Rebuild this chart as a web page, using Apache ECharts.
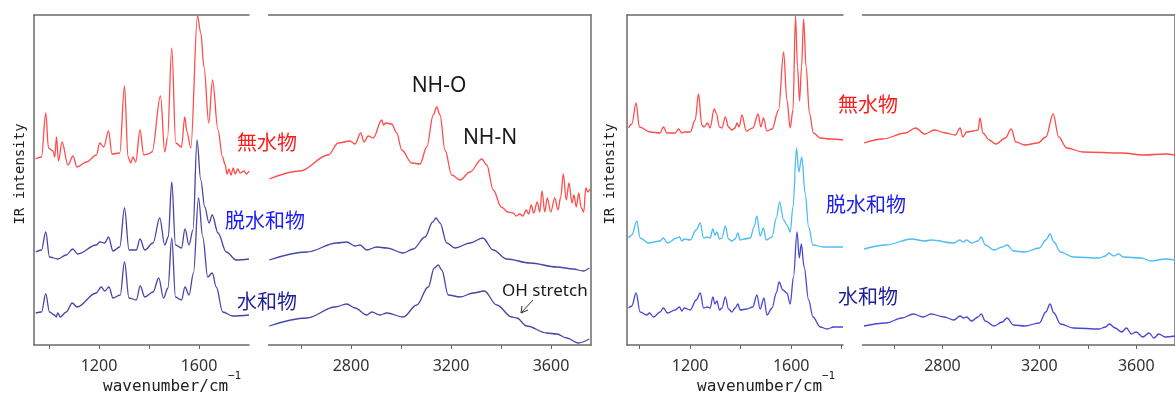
<!DOCTYPE html>
<html>
<head>
<meta charset="utf-8">
<script src="https://cdn.jsdelivr.net/npm/echarts@6/dist/echarts.min.js"></script>
<style>
  html, body { margin: 0; padding: 0; background: #fff; }
  #chart { width: 1175px; height: 394px; }
</style>
</head>
<body>
<div id="chart"></div>
<script>
// [wavenumber cm-1, offset intensity]
const leftLowAnhyd = [[946,186],[970,188],[987,232],[998,197],[1016,194],[1023,188],[1030,208],[1038,184],[1052,203],[1076,180],[1096,189],[1112,178],[1150,183],[1190,190],[1203,202],[1219,198],[1238,214],[1252,191],[1283,192],[1302,259],[1316,188],[1327,182],[1336,188],[1347,183],[1364,215],[1379,190],[1396,191],[1412,193],[1446,249],[1463,193],[1474,207],[1491,297],[1507,202],[1530,198],[1543,228],[1552,213],[1567,197],[1594,329],[1607,312],[1620,278],[1639,222],[1654,265],[1676,215],[1694,188],[1705,180],[1712,171],[1720,176],[1728,170],[1737,177],[1745,171],[1755,176],[1765,172],[1780,174],[1790,171],[1800,174]];
const leftHighAnhyd = [[2473,166],[2596,174],[2709,190],[2749,202],[2796,204],[2816,201],[2839,212],[2852,203],[2869,209],[2889,207],[2923,225],[2930,220],[2939,222],[2963,221],[2983,212],[3003,195],[3043,182],[3076,181],[3103,198],[3129,230],[3143,238],[3156,230],[3176,195],[3203,170],[3236,165],[3276,173],[3323,186],[3343,180],[3369,155],[3401,138],[3428,133],[3448,132],[3461,129],[3475,131],[3488,129],[3501,135],[3511,131],[3521,140],[3531,132],[3545,143],[3555,133],[3564,154],[3575,133],[3585,147],[3599,133],[3615,147],[3628,135],[3639,148],[3649,171],[3661,145],[3672,162],[3684,142],[3692,150],[3701,138],[3711,152],[3721,137],[3731,133],[3739,157],[3748,153],[3755,156]];
const leftLowDehyd = [[947,93],[970,95],[987,113],[1002,88],[1035,86],[1069,90],[1095,96],[1115,91],[1189,100],[1203,103],[1223,102],[1238,108],[1256,94],[1283,98],[1302,137],[1320,95],[1349,95],[1364,106],[1383,95],[1416,102],[1443,127],[1463,100],[1477,108],[1491,163],[1506,100],[1530,97],[1544,116],[1560,100],[1576,115],[1592,205],[1607,165],[1623,138],[1640,122],[1653,130],[1676,112],[1709,93],[1749,85],[1800,86]];
const leftHighDehyd = [[2473,85],[2623,93],[2743,102],[2783,103],[2816,99],[2836,100],[2863,95],[2903,98],[2943,97],[3009,92],[3049,96],[3096,108],[3127,123],[3140,127],[3156,122],[3183,102],[3216,97],[3276,102],[3327,107],[3369,95],[3423,86],[3516,82],[3623,78],[3689,76],[3729,74],[3753,77]];
const leftLowHyd = [[947,32],[970,33],[987,51],[1002,33],[1022,30],[1029,28],[1035,32],[1045,28],[1069,33],[1093,42],[1112,38],[1189,52],[1209,58],[1223,54],[1240,58],[1256,47],[1285,50],[1302,83],[1320,47],[1349,45],[1365,59],[1383,48],[1416,53],[1439,67],[1458,47],[1476,57],[1491,107],[1506,48],[1530,45],[1544,58],[1560,50],[1578,72],[1598,147],[1615,108],[1635,68],[1653,72],[1669,58],[1695,33],[1735,29],[1800,30]];
const leftHighHyd = [[2473,19],[2623,27],[2736,38],[2783,41],[2816,37],[2863,30],[2883,33],[2916,30],[2943,32],[3009,28],[3063,40],[3109,58],[3133,77],[3149,80],[3163,75],[3189,50],[3236,48],[3289,52],[3333,54],[3383,40],[3443,28],[3463,27],[3503,19],[3583,12],[3623,11],[3663,7],[3709,2],[3753,6]];

const rightLowAnhyd = [[956,217],[969,221],[986,242],[999,218],[1042,213],[1081,212],[1094,218],[1108,212],[1141,212],[1154,216],[1167,212],[1177,213],[1200,213],[1220,225],[1233,251],[1246,220],[1255,218],[1269,222],[1279,217],[1295,236],[1303,232],[1316,218],[1326,217],[1339,228],[1352,218],[1365,215],[1378,217],[1385,222],[1394,218],[1405,230],[1422,214],[1448,217],[1469,231],[1480,218],[1490,227],[1504,214],[1524,216],[1550,235],[1570,293],[1583,245],[1596,217],[1607,235],[1617,329],[1625,278],[1633,244],[1641,278],[1649,326],[1659,278],[1672,232],[1688,212],[1715,207],[1754,206],[1805,205]];
const rightHighAnhyd = [[2476,202],[2553,206],[2647,212],[2689,217],[2727,211],[2767,215],[2813,212],[2853,210],[2873,217],[2884,208],[2900,213],[2927,214],[2947,215],[2955,227],[2967,212],[2993,205],[3020,201],[3060,207],[3084,216],[3103,203],[3140,200],[3193,202],[3227,208],[3257,231],[3280,208],[3313,197],[3380,193],[3540,192],[3633,190],[3720,191],[3760,190]];
const rightLowDehyd = [[956,107],[969,110],[989,124],[1002,107],[1035,102],[1081,104],[1094,107],[1110,102],[1147,107],[1158,108],[1167,104],[1177,106],[1200,105],[1224,115],[1240,122],[1253,107],[1269,108],[1279,107],[1290,116],[1298,110],[1306,113],[1316,106],[1326,107],[1339,119],[1352,106],[1365,104],[1378,106],[1389,112],[1398,105],[1414,106],[1438,107],[1453,118],[1464,129],[1477,109],[1490,117],[1501,105],[1524,108],[1541,127],[1554,143],[1570,125],[1583,120],[1596,113],[1607,138],[1621,197],[1630,173],[1642,188],[1655,152],[1669,118],[1686,100],[1728,98],[1805,98]];
const rightHighDehyd = [[2476,96],[2567,100],[2673,106],[2727,104],[2753,105],[2847,102],[2871,105],[2887,103],[2900,105],[2920,102],[2947,104],[2960,108],[2977,100],[3013,95],[3047,98],[3067,100],[3093,94],[3140,93],[3200,97],[3227,105],[3244,111],[3260,103],[3287,93],[3340,88],[3447,87],[3473,89],[3487,92],[3507,89],[3527,91],[3547,88],[3620,87],[3660,84],[3720,86],[3760,85]];
const rightLowHyd = [[956,37],[969,39],[986,52],[1002,33],[1028,30],[1039,32],[1055,28],[1081,33],[1094,37],[1110,32],[1141,35],[1158,38],[1167,34],[1177,37],[1200,35],[1224,45],[1240,52],[1253,37],[1269,38],[1279,37],[1290,48],[1298,41],[1306,44],[1316,35],[1326,37],[1339,48],[1352,36],[1365,33],[1378,37],[1389,41],[1398,35],[1424,36],[1448,38],[1464,50],[1477,36],[1492,47],[1504,30],[1524,37],[1541,52],[1552,63],[1567,55],[1583,52],[1596,41],[1609,68],[1623,113],[1632,87],[1640,101],[1651,78],[1669,45],[1686,28],[1715,18],[1742,16],[1768,18],[1805,18]];
const rightHighHyd = [[2476,19],[2567,22],[2633,27],[2680,31],[2720,28],[2753,31],[2807,28],[2847,25],[2873,29],[2887,27],[2900,28],[2920,24],[2947,28],[2960,31],[2977,24],[3013,19],[3047,23],[3067,27],[3093,20],[3140,19],[3200,22],[3227,33],[3244,41],[3260,32],[3287,21],[3340,17],[3447,16],[3473,18],[3489,21],[3513,17],[3540,13],[3560,17],[3580,11],[3600,13],[3627,8],[3653,12],[3673,7],[3693,11],[3720,8],[3760,9]];

const lowTickLabels = [1200, 1600];
const highTickLabels = [2800, 3200, 3600];
const sampleNames = ['無水物', '脱水和物', '水和物'];

const chart = echarts.init(document.getElementById('chart'));

const frame = { color: '#6a6a6a', width: 1.5 };
// one grid per axis segment: left panel low/high, right panel low/high
const segments = [
    { grid: { left: 34, top: 15, width: 215, height: 330 }, min: 940, max: 1800, split: 4, labels: lowTickLabels, side: 'left' },
    { grid: { left: 268.5, top: 15, width: 322.5, height: 330 }, min: 2470, max: 3760, split: 6, labels: highTickLabels, side: 'right' },
    { grid: { left: 627, top: 15, width: 216, height: 330 }, min: 950, max: 1805, split: 4, labels: lowTickLabels, side: 'left' },
    { grid: { left: 862.5, top: 15, width: 322.5, height: 330 }, min: 2470, max: 3760, split: 6, labels: highTickLabels, side: 'right' },
];

const xAxis = [];
const yAxis = [];
segments.forEach((s, i) => {
    xAxis.push({
        gridIndex: i, type: 'value', min: s.min, max: s.max, splitNumber: s.split, position: 'bottom',
        axisLine: { show: true, onZero: false, lineStyle: frame },
        axisTick: { show: true, length: 4, lineStyle: { color: '#6a6a6a', width: 1 } },
        axisLabel: {
            showMinLabel: false, showMaxLabel: false, margin: 13,
            fontSize: 16, fontFamily: 'Noto Sans', color: '#333',
            formatter: v => (s.labels.includes(v) ? String(v) : ''),
        },
        splitLine: { show: false },
    });
    xAxis.push({
        gridIndex: i, type: 'value', min: s.min, max: s.max, position: 'top',
        axisLine: { show: true, onZero: false, lineStyle: frame },
        axisTick: { show: false }, axisLabel: { show: false }, splitLine: { show: false },
    });
    yAxis.push({
        gridIndex: i, type: 'value', min: 0, max: 330, position: s.side,
        axisLine: { show: true, onZero: false, lineStyle: frame },
        axisTick: { show: false }, axisLabel: { show: false }, splitLine: { show: false },
    });
});

const leftColors = ['#ff4c4c', '#4646a8', '#4646a8'];
const rightColors = ['#ff4c4c', '#4cbcf2', '#4848d4'];
const seriesData = [
    [leftLowAnhyd, leftLowDehyd, leftLowHyd],
    [leftHighAnhyd, leftHighDehyd, leftHighHyd],
    [rightLowAnhyd, rightLowDehyd, rightLowHyd],
    [rightHighAnhyd, rightHighDehyd, rightHighHyd],
];
const series = [];
seriesData.forEach((group, i) => {
    const colors = i < 2 ? leftColors : rightColors;
    group.forEach((data, k) => {
        series.push({
            name: sampleNames[k], type: 'line', data,
            xAxisIndex: i * 2, yAxisIndex: i,
            showSymbol: false, symbol: 'none', smooth: 0.35, smoothMonotone: 'x',
            lineStyle: { color: colors[k], width: 1.3 },
            silent: true,
        });
    });
});

const cjk = '"Noto Sans CJK JP", sans-serif';
const mono = '"DejaVu Sans Mono", monospace';
const txt = (x, y, text, fill, font, align) => ({
    type: 'text', x, y, silent: true,
    style: { text, fill, font, align: align || 'left', verticalAlign: 'middle' },
});
const labelColors = ['#ff1a1a', '#1a1aff', '#1f1f99'];
const rightLabelColors = ['#ff1a1a', '#2020e8', '#20209a'];

const graphic = [
    // sample labels, left panel
    txt(237, 142, sampleNames[0], labelColors[0], '20px ' + cjk),
    txt(225, 220, sampleNames[1], labelColors[1], '20px ' + cjk),
    txt(237, 301, sampleNames[2], labelColors[2], '20px ' + cjk),
    // sample labels, right panel
    txt(838, 104, sampleNames[0], rightLabelColors[0], '20px ' + cjk),
    txt(826, 204, sampleNames[1], rightLabelColors[1], '20px ' + cjk),
    txt(838, 296, sampleNames[2], rightLabelColors[2], '20px ' + cjk),
    // band annotations
    txt(439, 86, 'NH-O', '#1a1a1a', '21px "Noto Sans"', 'center'),
    txt(490, 138, 'NH-N', '#1a1a1a', '21px "Noto Sans"', 'center'),
    txt(502, 291, 'OH stretch', '#1a1a1a', '17px "Noto Sans"'),
    { type: 'line', silent: true, shape: { x1: 533, y1: 300, x2: 521, y2: 313 }, style: { stroke: '#333', lineWidth: 1 } },
    { type: 'polyline', silent: true, shape: { points: [[522, 306], [521, 313], [528, 310]] }, style: { stroke: '#333', lineWidth: 1, fill: null } },
    // axis names
    txt(103, 387, 'wavenumber/cm', '#222', '16px ' + mono),
    txt(228, 376, '−1', '#222', '11px ' + mono),
    txt(697, 387, 'wavenumber/cm', '#222', '16px ' + mono),
    txt(822, 376, '−1', '#222', '11px ' + mono),
    Object.assign(txt(20, 174, 'IR intensity', '#222', '14px ' + mono, 'center'), { rotation: Math.PI / 2 }),
    Object.assign(txt(610, 174, 'IR intensity', '#222', '14px ' + mono, 'center'), { rotation: Math.PI / 2 }),
];

chart.setOption({
    animation: false,
    backgroundColor: '#fff',
    grid: segments.map(s => s.grid),
    xAxis,
    yAxis,
    series,
    graphic,
});
</script>
</body>
</html>
